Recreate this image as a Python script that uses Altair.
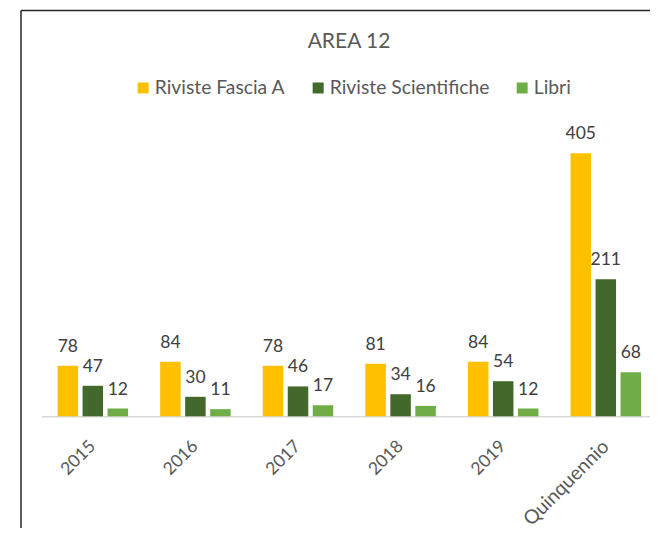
import altair as alt
import pandas as pd

categories = ["2015", "2016", "2017", "2018", "2019", "Quinquennio"]
series = ["Riviste Fascia A", "Riviste Scientifiche", "Libri"]
fascia_a = [78, 84, 78, 81, 84, 405]
scientifiche = [47, 30, 46, 34, 54, 211]
libri = [12, 11, 17, 16, 12, 68]
colors = ["#FFC000", "#43682B", "#70AD47"]

rows = []
for s, vals in zip(series, [fascia_a, scientifiche, libri]):
    for c, v in zip(categories, vals):
        rows.append({"Anno": c, "Serie": s, "Valore": v})
df = pd.DataFrame(rows)

FONT = "Lato"

x = alt.X(
    "Anno:N", sort=categories, title=None,
    scale=alt.Scale(range=[0, 615.6], paddingInner=0, paddingOuter=0),
    axis=alt.Axis(labelAngle=-45, labelAlign="right", labelBaseline="middle",
                  labelPadding=27, ticks=False, domainColor="#D9D9D9",
                  domainWidth=1.5, labelFont=FONT,
                  labelFontSize={"condition": {"test": "datum.value == 'Quinquennio'", "value": 19.5},
                                 "value": 17.5},
                  labelColor="#595959", grid=False),
)
xo = alt.XOffset("Serie:N", sort=series,
                 scale=alt.Scale(paddingInner=0.18, paddingOuter=0.642))
y = alt.Y("Valore:Q", scale=alt.Scale(domain=[0, 405], nice=False, zero=True), axis=None)
color = alt.Color(
    "Serie:N", sort=series, scale=alt.Scale(domain=series, range=colors),
    legend=alt.Legend(orient="none", legendX=92, legendY=-75, direction="horizontal",
                      title=None, symbolType="square", symbolSize=121,
                      symbolStrokeWidth=0, labelFont=FONT, labelFontSize=19.3,
                      labelColor="#595959", labelOffset=2, columnPadding=23,
                      labelLimit=400, padding=0),
)

bars = alt.Chart(df).mark_bar().encode(x=x, xOffset=xo, y=y, color=color)
labels = alt.Chart(df).mark_text(dy=-14, baseline="alphabetic", font=FONT,
                                 fontSize=17.5, color="#404040").encode(
    x=x, xOffset=xo, y=y, text="Valore:Q")

frame = pd.DataFrame({"k": [0]})
border_left = alt.Chart(frame).mark_rule(color="#262626", strokeWidth=1.5).encode(
    x=alt.value(-20.5), y=alt.value(-142.8), y2=alt.value(600))
border_top = alt.Chart(frame).mark_rule(color="#262626", strokeWidth=1.5).encode(
    x=alt.value(-20.5), x2=alt.value(700), y=alt.value(-142.8))

chart = alt.layer(bars, labels, border_left, border_top).properties(
    width=608, height=263,
    title=alt.TitleParams("AREA 12", font=FONT, fontSize=21, color="#595959",
                          fontWeight="normal", anchor="middle", frame="group",
                          offset=-59, baseline="alphabetic", dx=3.5),
    padding={"left": 33.5, "top": 145.3, "right": 0.5, "bottom": 112},
    autosize="none",
).configure_view(stroke=None)

chart.save("out.html", embed_options={"renderer": "svg", "actions": False})
